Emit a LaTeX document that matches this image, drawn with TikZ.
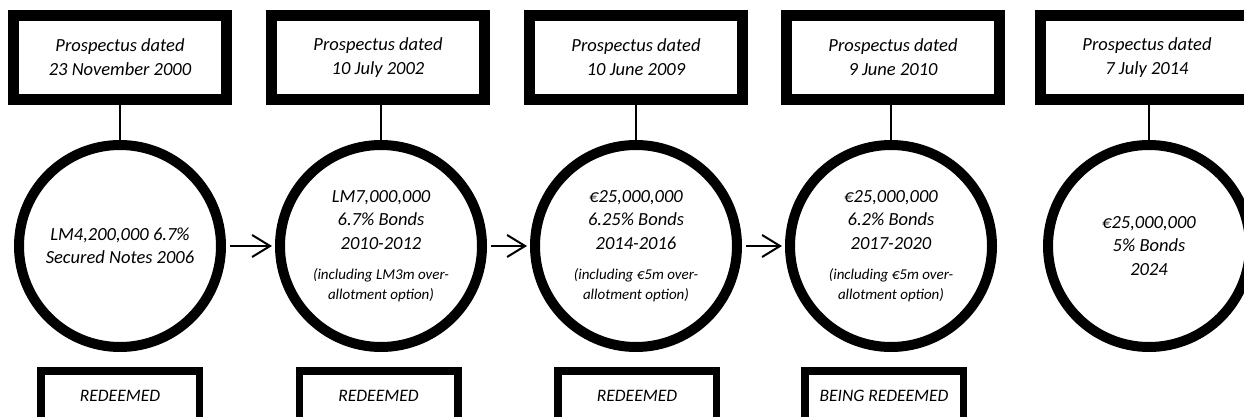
\documentclass[tikz,border=0pt]{standalone}
\usepackage{fontspec}
\setmainfont{Carlito}
\usetikzlibrary{arrows.meta}
\tikzset{
  topbox/.style={draw, line width=10.5pt, minimum width=213pt, minimum height=84pt, inner sep=0pt, align=center, font=\itshape\fontsize{18.5}{24}\selectfont},
  bond/.style={draw, circle, line width=10pt, minimum size=202pt, inner sep=0pt, align=center, font=\itshape\fontsize{18.5}{23.5}\selectfont},
  statebox/.style={draw, line width=7.5pt, minimum width=158.5pt, minimum height=50pt, inner sep=0pt, align=center, font=\itshape\fontsize{17.5}{21}\selectfont},
  link/.style={line width=2pt},
  flow/.style={line width=2pt, -{Straight Barb[length=18pt,width=22pt,line width=2pt]}, shorten <=4pt, shorten >=3pt},
}
\newcommand{\smalltxt}[1]{{\fontsize{15}{20}\selectfont #1}}
\begin{document}
\begin{tikzpicture}[x=1pt,y=-1pt]
\useasboundingbox (0,0) rectangle (1244,417);
\fill[white] (0,0) rectangle (1244,417);
\clip (0,0) rectangle (1244,417);

% top boxes
\node[topbox] (b1) at (120,57.5) {Prospectus dated\\23 November 2000};
\node[topbox] (b2) at (378,57.5) {Prospectus dated\\10 July 2002};
\node[topbox] (b3) at (636,57.5) {Prospectus dated\\10 June 2009};
\node[topbox] (b4) at (893,57.5) {Prospectus dated\\9 June 2010};
\node[topbox] (b5) at (1147,57.5) {Prospectus dated\\7 July 2014};

% circles
\node[bond] (c1) at (120,246) {LM4,200,000 6.7\%\\Secured Notes 2006};
\node[bond] (c2) at (381,246) {LM7,000,000\\6.7\% Bonds\\2010-2012\\[7pt]\smalltxt{(including LM3m over-}\\[-3.5pt]\smalltxt{allotment option)}};
\node[bond] (c3) at (636,246) {€25,000,000\\6.25\% Bonds\\2014-2016\\[7pt]\smalltxt{(including €5m over-}\\[-3.5pt]\smalltxt{allotment option)}};
\node[bond] (c4) at (891,246) {€25,000,000\\6.2\% Bonds\\2017-2020\\[7pt]\smalltxt{(including €5m over-}\\[-3.5pt]\smalltxt{allotment option)}};
\node[bond] (c5) at (1149,246) {€25,000,000\\5\% Bonds\\2024};

% bottom status boxes
\node[statebox] (s1) at (120,395.75) {REDEEMED};
\node[statebox] (s2) at (378.5,395.75) {REDEEMED};
\node[statebox] (s3) at (637,395.75) {REDEEMED};
\node[statebox] (s4) at (884,395.75) {BEING REDEEMED};

% connectors box -> circle
\foreach \i in {1,...,5} {
  \draw[link] (c\i.north) -- (c\i.north |- b\i.south);
}

% arrows
\draw[flow] (c1.east) -- (c2.west);
\draw[flow] (c2.east) -- (c3.west);
\draw[flow] (c3.east) -- (c4.west);
\end{tikzpicture}
\end{document}
